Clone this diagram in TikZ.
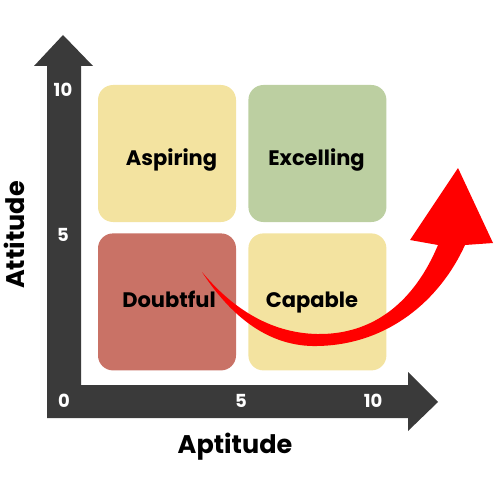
\documentclass[tikz,border=0pt]{standalone}
\usepackage{fontspec}
\setmainfont{Poppins}
\usetikzlibrary{positioning}
\definecolor{assi}{HTML}{3A3A3A}
\definecolor{giallo}{HTML}{F3E3A0}
\definecolor{verde}{HTML}{BCCFA1}
\definecolor{rosso}{HTML}{C97266}
\tikzset{
  quadrante/.style={rounded corners=15pt, minimum width=138pt, minimum height=137pt, inner sep=0pt},
  testo/.style={anchor=base, font=\fontsize{21}{24}\selectfont\bfseries},
  numero/.style={text=white, font=\fontsize{18}{20}\selectfont\bfseries},
  etichetta/.style={anchor=base, font=\fontsize{25.5}{30}\selectfont\bfseries}
}
\begin{document}
\begin{tikzpicture}[x=1pt, y=-1pt]
    \useasboundingbox (0,0) rectangle (500,500);
    %assi
    \fill[assi] (63,35) -- (93,66) -- (81,66) -- (81,385) -- (408,385) -- (408,372) -- (438,402)
        -- (408,431) -- (408,418) -- (47,418) -- (47,66) -- (34,66) -- cycle;
    %quadranti
    \node[quadrante, fill=giallo] (aspiring) at (167,153.5) {};
    \node[quadrante, fill=verde, right=12pt of aspiring] (excelling) {};
    \node[quadrante, fill=rosso, below=11pt of aspiring] (doubtful) {};
    \node[quadrante, fill=giallo, below=11pt of excelling] (capable) {};
    \node[testo] (taspiring) at (171.5,165) {Aspiring};
    \node[testo] (texcelling) at (316.5,165) {Excelling};
    \node[testo] (tdoubtful) at (169,307) {Doubtful};
    \node[testo] (tcapable) at (312,307) {Capable};
    %freccia rossa
    \fill[red] (202,272) .. controls (232,318) and (270,347) .. (317,346)
        .. controls (388,345) and (440,300) .. (465,245)
        -- (493,243) -- (458,168) -- (410,240) -- (438,245)
        .. controls (415,300) and (375,335) .. (317,334)
        .. controls (270,333) and (232,308) .. cycle;
    %numeri
    \node[numero] (y10) at (63,90) {10};
    \node[numero] (y5) at (63,235) {5};
    \node[numero] (zero) at (64,401) {0};
    \node[numero] (x5) at (241,401) {5};
    \node[numero] (x10) at (373,401) {10};
    %labels
    \node[etichetta] (aptitude) at (235,453) {Aptitude};
    \node[etichetta, rotate=90] (attitude) at (24,235) {Attitude};
\end{tikzpicture}
\end{document}
